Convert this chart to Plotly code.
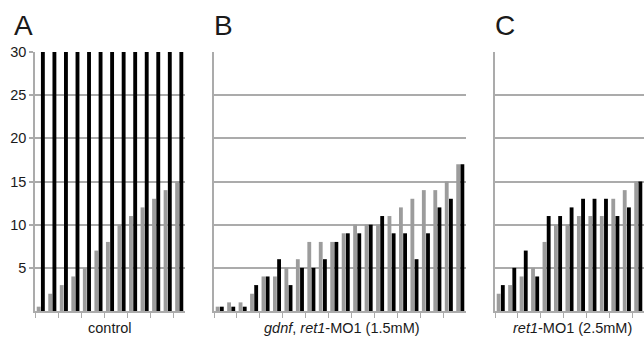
import plotly.graph_objects as go

# ---- data ----
cats_a = [str(i) for i in range(1, 14)]
gray_a = [0.5, 2, 3, 4, 5, 7, 8, 10, 11, 12, 13, 14, 15]
black_a = [30] * 13

cats_b = [str(i) for i in range(1, 23)]
gray_b = [0.5, 1, 1, 2, 4, 4, 5, 6, 8, 8, 8, 9, 10, 10, 10, 11, 12, 13, 14, 14, 15, 17]
black_b = [0.5, 0.5, 0.5, 3, 4, 6, 3, 5, 5, 6, 8, 9, 9, 10, 11, 9, 9, 6, 9, 12, 13, 17]

cats_c = [str(i) for i in range(1, 14)]
gray_c = [2, 3, 4, 5, 8, 10, 10, 11, 11, 11, 13, 14, 15]
black_c = [3, 5, 7, 4, 11, 11, 12, 13, 13, 13, 11, 12, 15]

y_ticks = [5, 10, 15, 20, 25, 30]
panel_labels = ["A", "B", "C"]
x_titles = ["control", "<i>gdnf</i>, <i>ret1</i>-MO1 (1.5mM)", "<i>ret1</i>-MO1 (2.5mM)"]

GRAY = "#9c9c9c"
BLACK = "#000000"
LINE = "#ababab"
TXT = "#1a1a1a"
W, H = 644, 337

fig = go.Figure()
panels = [(cats_a, gray_a, black_a), (cats_b, gray_b, black_b), (cats_c, gray_c, black_c)]
for i, (c, g, b) in enumerate(panels):
    sfx = "" if i == 0 else str(i + 1)
    fig.add_trace(go.Bar(x=c, y=g, marker=dict(color=GRAY, line=dict(width=0)),
                         xaxis="x" + sfx, yaxis="y" + sfx, showlegend=False))
    fig.add_trace(go.Bar(x=c, y=b, marker=dict(color=BLACK, line=dict(width=0)),
                         xaxis="x" + sfx, yaxis="y" + sfx, showlegend=False))

x_domains = [(35 / W, 185 / W), (214 / W, 466 / W), (495 / W, 1.0)]
y_dom = [26 / H, 285 / H]

layout = dict(
    width=W, height=H, margin=dict(l=0, r=0, t=0, b=0, autoexpand=False),
    paper_bgcolor="white", plot_bgcolor="white",
    barmode="group", bargap=0.27, bargroupgap=0.08,
    font=dict(family="Liberation Sans, Arial, sans-serif", color=TXT),
)
for i, dom in enumerate(x_domains):
    sfx = "" if i == 0 else str(i + 1)
    layout["xaxis" + sfx] = dict(
        domain=list(dom), anchor="y" + sfx, type="category", automargin=False,
        showticklabels=False, showgrid=False, zeroline=False,
        showline=True, linecolor=LINE, linewidth=1.5,
        ticks="outside", tickson="boundaries", ticklen=5, tickcolor=LINE, tickwidth=1,
        fixedrange=True,
    )
    layout["yaxis" + sfx] = dict(
        domain=y_dom, anchor="x" + sfx, range=[0, 30], automargin=False,
        tickvals=y_ticks, showticklabels=(i == 0),
        tickfont=dict(size=14.5, color=TXT),
        ticks="outside" if i == 0 else "", ticklen=4, tickcolor=LINE, tickwidth=1.5,
        showgrid=True, gridcolor=LINE, gridwidth=1.5, zeroline=False,
        showline=True, linecolor=LINE, linewidth=1.5,
        fixedrange=True,
    )
fig.update_layout(**layout)

label_x = [12 / W, 212 / W, 493 / W]
title_x = [110 / W, 342 / W, 572 / W]
for i in range(3):
    fig.add_annotation(text=panel_labels[i], xref="paper", yref="paper",
                       x=label_x[i], y=(H - 25) / H, xanchor="left", yanchor="middle",
                       showarrow=False, font=dict(size=28, color=TXT))
    fig.add_annotation(text=x_titles[i], xref="paper", yref="paper",
                       x=title_x[i], y=(H - 328) / H, xanchor="center", yanchor="middle",
                       showarrow=False, font=dict(size=14.5, color=TXT))

fig.write_html(
    "out.html",
    config={"displayModeBar": False},
    post_script="document.body.style.margin='0';document.body.style.overflow='hidden';",
)
